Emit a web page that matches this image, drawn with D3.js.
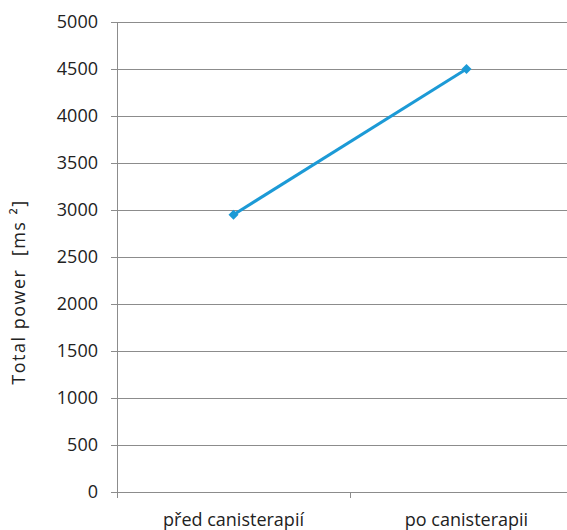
<!DOCTYPE html>
<html>
<head>
<meta charset="utf-8">
<script src="https://cdn.jsdelivr.net/npm/d3@7"></script>
<style>
  body { margin: 0; background: #fff; }
  text { font-family: "Open Sans", "Noto Sans", sans-serif; fill: #222; }
</style>
</head>
<body>
<svg id="chart" width="567" height="530"></svg>
<script>
// data
var categories = ["před canisterapií", "po canisterapii"];
var values = [2950, 4500];
var yTicks = [0, 500, 1000, 1500, 2000, 2500, 3000, 3500, 4000, 4500, 5000];
var yTitle = "Total power  [ms ²]";

var margin = {top: 22, left: 117, bottom: 38},
    width = 466,   // plot runs a bit past the window on the right
    height = 530 - margin.top - margin.bottom;

var svg = d3.select("#chart")
    .append("g")
    .attr("transform", "translate(" + margin.left + "," + margin.top + ")");

var x = d3.scaleBand().domain(categories).range([0, width]);
var y = d3.scaleLinear().domain([0, 5000]).range([height, 0]);

// gridlines
svg.selectAll("line.grid")
    .data(yTicks)
    .enter()
    .append("line")
    .attr("class", "grid")
    .attr("x1", 0)
    .attr("x2", width)
    .attr("y1", function(d) { return Math.round(y(d)) + 0.5; })
    .attr("y2", function(d) { return Math.round(y(d)) + 0.5; })
    .style("stroke", "#8c8c8c")
    .style("stroke-width", 1);

// y axis
var yAxis = svg.append("g")
    .call(d3.axisLeft(y).tickValues(yTicks).tickSize(6).tickPadding(13).tickFormat(d3.format("d")));
yAxis.select(".domain").style("stroke", "#8c8c8c");
yAxis.selectAll(".tick line").style("stroke", "#8c8c8c");
yAxis.selectAll("text").style("font-size", "18px").attr("fill", "#222");

// x axis
var xAxis = svg.append("g")
    .attr("transform", "translate(0," + height + ")")
    .call(d3.axisBottom(x).tickValues([]).tickSizeOuter(0));
xAxis.select(".domain").style("stroke", "#8c8c8c");
xAxis.selectAll(".sep")
    .data([0, x.bandwidth()])
    .enter()
    .append("line")
    .attr("x1", function(d) { return d + 0.5; })
    .attr("x2", function(d) { return d + 0.5; })
    .attr("y1", 0)
    .attr("y2", 6)
    .style("stroke", "#8c8c8c");
xAxis.selectAll(".cat")
    .data(categories)
    .enter()
    .append("text")
    .attr("x", function(d) { return x(d) + x.bandwidth() / 2; })
    .attr("y", 34)
    .attr("text-anchor", "middle")
    .style("font-size", "18px")
    .text(function(d) { return d; });

// line
var line = d3.line()
    .x(function(d, i) { return x(categories[i]) + x.bandwidth() / 2; })
    .y(function(d) { return y(d); });

svg.append("path")
    .datum(values)
    .attr("d", line)
    .style("fill", "none")
    .style("stroke", "#1c9ad6")
    .style("stroke-width", 3);

svg.selectAll("path.pt")
    .data(values)
    .enter()
    .append("path")
    .attr("class", "pt")
    .attr("d", d3.symbol().type(d3.symbolSquare).size(50))
    .attr("transform", function(d, i) {
        return "translate(" + (x(categories[i]) + x.bandwidth() / 2) + "," + y(d) + ") rotate(45)";
    })
    .style("fill", "#1c9ad6");

// y title
d3.select("#chart").append("text")
    .attr("transform", "translate(25,292) rotate(-90)")
    .attr("text-anchor", "middle")
    .style("font-size", "18px")
    .style("letter-spacing", "1.5px")
    .style("white-space", "pre")
    .text(yTitle);
</script>
</body>
</html>
